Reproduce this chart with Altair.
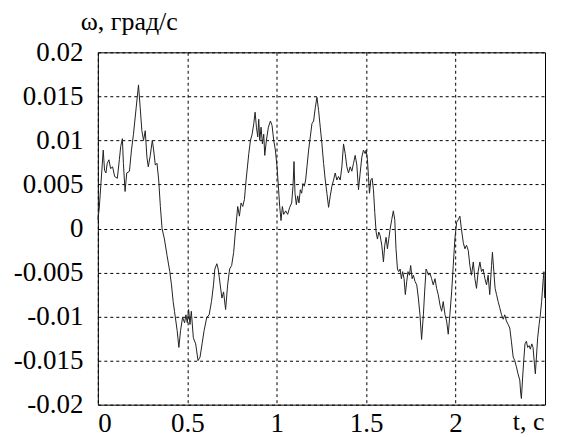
import altair as alt
import pandas as pd

# --- data ---
t_seg1 = [0, 0.0075, 0.0188, 0.0301, 0.0376, 0.0451, 0.0526, 0.0620, 0.0714, 0.0827,
          0.0940, 0.1090, 0.1203, 0.1278, 0.1372, 0.1429, 0.1523, 0.1617, 0.1767, 0.1880,
          0.1992, 0.2143, 0.2274, 0.2368, 0.2462, 0.2556, 0.2650, 0.2744, 0.2820, 0.2932,
          0.3045, 0.3120, 0.3214, 0.3308, 0.3402, 0.3496, 0.3590, 0.3722, 0.3872, 0.4023,
          0.4117, 0.4211, 0.4286, 0.4361, 0.4436, 0.4530, 0.4624, 0.4737, 0.4850, 0.4925,
          0.5000, 0.5075, 0.5150, 0.5226, 0.5338, 0.5470, 0.5602, 0.5714, 0.5827, 0.5940,
          0.6090, 0.6222, 0.6353, 0.6466, 0.6541, 0.6654, 0.6729, 0.6842, 0.6936, 0.7030,
          0.7143, 0.7256, 0.7368, 0.7481, 0.7594, 0.7688, 0.7820, 0.7914, 0.8008, 0.8102,
          0.8195, 0.8289]
w_seg1 = [0.0010, 0.0022, 0.0055, 0.0089, 0.0066, 0.0063, 0.0074, 0.0078, 0.0068, 0.0070,
          0.0059, 0.0057, 0.0078, 0.0093, 0.0102, 0.0074, 0.0042, 0.0063, 0.0065, 0.0089,
          0.0107, 0.0137, 0.0163, 0.0137, 0.0111, 0.0100, 0.0111, 0.0081, 0.0070, 0.0083,
          0.0100, 0.0089, 0.0072, 0.0074, 0.0055, 0.0025, 0.0000, -0.0012, -0.0031, -0.0049,
          -0.0064, -0.0083, -0.0094, -0.0105, -0.0116, -0.0135, -0.0116, -0.0101, -0.0107, -0.0098,
          -0.0107, -0.0092, -0.0109, -0.0094, -0.0124, -0.0131, -0.0150, -0.0146, -0.0131, -0.0116,
          -0.0101, -0.0098, -0.0083, -0.0064, -0.0046, -0.0040, -0.0046, -0.0064, -0.0079, -0.0072,
          -0.0092, -0.0064, -0.0046, -0.0042, -0.0027, -0.0004, 0.0025, 0.0014, 0.0029, 0.0025,
          0.0033, 0.0055]

t_seg2 = [0.8439, 0.8532, 0.8625, 0.8717, 0.8792, 0.8866, 0.8941, 0.8996, 0.9052, 0.9126,
          0.9201, 0.9275, 0.9331, 0.9424, 0.9535, 0.9647, 0.9740, 0.9833, 0.9926, 1.0019,
          1.0093, 1.0167, 1.0242, 1.0316, 1.0390, 1.0502, 1.0613, 1.0725, 1.0836, 1.0911,
          1.0967, 1.1022, 1.1097, 1.1171, 1.1245, 1.1320, 1.1394, 1.1468, 1.1543, 1.1617,
          1.1691, 1.1784, 1.1877, 1.1970, 1.2063, 1.2156, 1.2249, 1.2342, 1.2435, 1.2528,
          1.2621, 1.2714, 1.2807, 1.2900, 1.2993, 1.3086, 1.3178, 1.3271, 1.3364, 1.3457,
          1.3550, 1.3643, 1.3736, 1.3829, 1.3922, 1.4015, 1.4108, 1.4201, 1.4294, 1.4387,
          1.4480, 1.4572, 1.4665, 1.4758, 1.4851, 1.4944, 1.5000, 1.5074, 1.5130, 1.5186,
          1.5260, 1.5335, 1.5409, 1.5483, 1.5558, 1.5632, 1.5706, 1.5781, 1.5874, 1.5967,
          1.6041, 1.6115, 1.6190, 1.6264, 1.6338]
w_seg2 = [0.0085, 0.0100, 0.0107, 0.0119, 0.0132, 0.0115, 0.0104, 0.0124, 0.0100, 0.0115,
          0.0096, 0.0107, 0.0083, 0.0100, 0.0115, 0.0122, 0.0117, 0.0100, 0.0089, 0.0070,
          0.0048, 0.0025, 0.0009, 0.0025, 0.0016, 0.0020, 0.0016, 0.0024, 0.0029, 0.0048,
          0.0076, 0.0040, 0.0027, 0.0037, 0.0029, 0.0044, 0.0040, 0.0051, 0.0048, 0.0055,
          0.0070, 0.0089, 0.0104, 0.0119, 0.0122, 0.0137, 0.0149, 0.0134, 0.0115, 0.0096,
          0.0074, 0.0055, 0.0040, 0.0024, 0.0037, 0.0048, 0.0055, 0.0063, 0.0055, 0.0059,
          0.0055, 0.0070, 0.0096, 0.0085, 0.0070, 0.0063, 0.0070, 0.0065, 0.0074, 0.0083,
          0.0072, 0.0044, 0.0063, 0.0081, 0.0089, 0.0085, 0.0089, 0.0078, 0.0059, 0.0040,
          0.0055, 0.0057, 0.0044, 0.0018, -0.0004, -0.0012, -0.0004, -0.0008, -0.0019, -0.0038,
          -0.0019, -0.0010, -0.0023, -0.0012, -0.0001]

t_seg3 = [1.643, 1.652, 1.660, 1.667, 1.675, 1.682, 1.690, 1.697, 1.704, 1.712,
          1.719, 1.727, 1.734, 1.742, 1.749, 1.757, 1.764, 1.773, 1.783, 1.792,
          1.801, 1.810, 1.820, 1.827, 1.835, 1.842, 1.849, 1.857, 1.866, 1.875,
          1.885, 1.894, 1.903, 1.913, 1.922, 1.931, 1.941, 1.950, 1.959, 1.968,
          1.978, 1.987, 1.996, 2.006, 2.015, 2.024, 2.033, 2.043, 2.052, 2.061,
          2.071, 2.080, 2.089, 2.099, 2.108, 2.117, 2.126, 2.136, 2.145, 2.154,
          2.164, 2.173, 2.182, 2.191, 2.201, 2.206, 2.214, 2.221, 2.229, 2.238,
          2.247, 2.257, 2.266, 2.275, 2.284, 2.294, 2.303, 2.312, 2.322, 2.331,
          2.340, 2.349, 2.359, 2.364, 2.368, 2.374, 2.381, 2.388, 2.396, 2.403,
          2.411, 2.418, 2.426, 2.433, 2.441, 2.446, 2.452, 2.459, 2.467, 2.474,
          2.481, 2.489, 2.494, 2.498]
w_seg3 = [0.0010, 0.0020, 0.0010, -0.0023, -0.0046, -0.0049, -0.0046, -0.0057, -0.0049, -0.0057,
          -0.0075, -0.0060, -0.0049, -0.0053, -0.0042, -0.0057, -0.0053, -0.0060, -0.0064, -0.0079,
          -0.0098, -0.0126, -0.0098, -0.0072, -0.0046, -0.0049, -0.0053, -0.0051, -0.0057, -0.0064,
          -0.0057, -0.0068, -0.0075, -0.0087, -0.0094, -0.0083, -0.0098, -0.0105, -0.0120, -0.0098,
          -0.0072, -0.0042, -0.0012, 0.0007, 0.0010, 0.0014, -0.0001, -0.0016, -0.0023, -0.0019,
          -0.0025, -0.0042, -0.0053, -0.0038, -0.0057, -0.0068, -0.0049, -0.0038, -0.0049, -0.0046,
          -0.0057, -0.0064, -0.0053, -0.0075, -0.0042, -0.0027, -0.0049, -0.0068, -0.0075, -0.0083,
          -0.0090, -0.0098, -0.0103, -0.0098, -0.0105, -0.0109, -0.0113, -0.0128, -0.0146, -0.0150,
          -0.0157, -0.0165, -0.0172, -0.0187, -0.0193, -0.0172, -0.0150, -0.0131, -0.0128, -0.0135,
          -0.0133, -0.0137, -0.0131, -0.0135, -0.0154, -0.0165, -0.0146, -0.0124, -0.0109, -0.0098,
          -0.0083, -0.0060, -0.0049, -0.0079]

x_ticks = [0, 0.5, 1, 1.5, 2]
y_ticks = [-0.02, -0.015, -0.01, -0.005, 0, 0.005, 0.01, 0.015, 0.02]
x_title = "t, c"
y_title = "ω, град/с"

df = pd.DataFrame({
    "t": t_seg1 + t_seg2 + t_seg3,
    "w": w_seg1 + w_seg2 + w_seg3,
})

FONT = "'Liberation Serif', 'Times New Roman', serif"

chart = alt.Chart(df).mark_line(color="#222222", strokeWidth=1).encode(
    x=alt.X("t:Q",
            scale=alt.Scale(domain=[0, 2.5], nice=False, zero=False),
            axis=alt.Axis(values=x_ticks, title=x_title, grid=True, ticks=False,
                          domain=False, labelPadding=6, format="~g",
                          labelFont=FONT, labelFontSize=27,
                          titleX=431, titleY=25,
                          titleAlign="center", titleBaseline="alphabetic")),
    y=alt.Y("w:Q",
            scale=alt.Scale(domain=[-0.02, 0.02], nice=False, zero=False),
            axis=alt.Axis(values=y_ticks, title=y_title, grid=True, ticks=False,
                          domain=False, labelPadding=15,
                          labelFont=FONT, labelFontSize=27,
                          labelExpr="replace(format(datum.value, '~g'), '\u2212', '-')",
                          titleAngle=0, titleX=31, titleY=-23,
                          titleAlign="center", titleBaseline="alphabetic")),
).properties(
    width=448,
    height=353,
    autosize=alt.AutoSizeParams(type="none"),
    padding={"left": 90, "top": 44, "right": 8, "bottom": 34},
    background="white",
).configure(
    font=FONT,
).configure_axis(
    labelColor="black",
    titleFont=FONT,
    titleFontSize=26,
    titleFontWeight="normal",
    titleColor="black",
    gridColor="black",
    gridDash=[3, 3],
    gridWidth=1,
    gridOpacity=1,
    labelBound=False,
    labelOverlap=False,
).configure_view(
    stroke="black",
    strokeWidth=1,
)

chart.save("out.html", embed_options={"renderer": "svg", "actions": False})
